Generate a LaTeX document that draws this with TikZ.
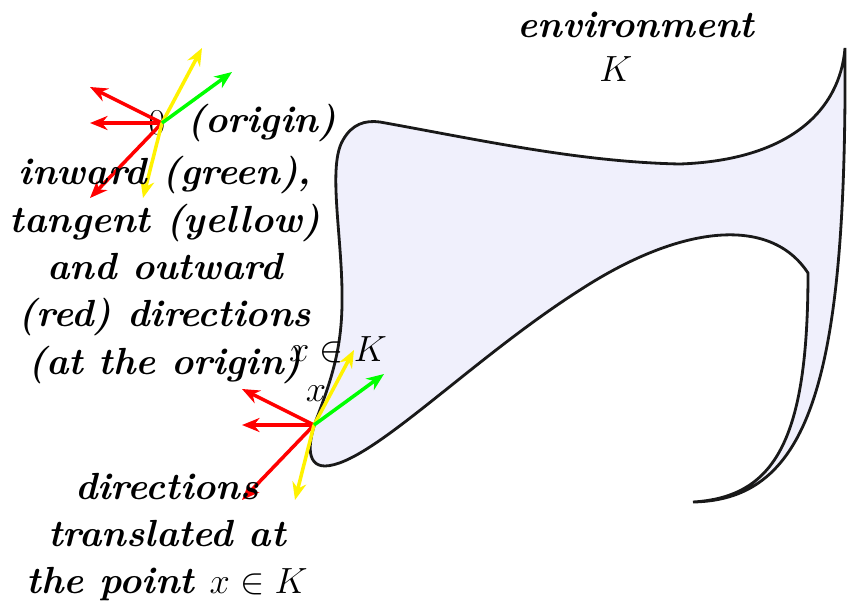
\documentclass[tikz,border=0pt]{standalone}
\usepackage{amsmath,amssymb}
\usepackage{xcolor}
\usetikzlibrary{arrows.meta, positioning}

\definecolor{envfill}{RGB}{240,240,252}

\begin{document}
\begin{tikzpicture}[
  x=0.02cm, y=-0.02cm,
  lbl/.style={font=\fontsize{21.5}{27}\selectfont\bfseries\itshape, align=center, inner sep=0pt},
  mathlbl/.style={font=\fontsize{21.5}{27}\selectfont, inner sep=0pt},
  vec/.style={line width=2pt, -{Stealth[length=10pt, width=8pt]}},
  invec/.style={vec, draw=green},
  tanvec/.style={vec, draw=yellow},
  outvec/.style={vec, draw=red}
]
\useasboundingbox (0,0) rectangle (849,613);

% the environment K
\draw[line width=1.6pt, draw=black!90, fill=envfill]
  (845,48) .. controls (847,380) and (810,500) .. (693,502)
  .. controls (775,497) and (808,440) .. (808,273)
  .. controls (770,215) and (680,225) .. (580,290)
  .. controls (470,360) and (370,465) .. (325,466)
  .. controls (305,466) and (308,440) .. (318,415)
  .. controls (335,370) and (343,340) .. (342,290)
  .. controls (341,230) and (328,165) .. (343,140)
  .. controls (352,124) and (365,120) .. (380,122)
  .. controls (480,140) and (580,162) .. (680,164)
  .. controls (790,160) and (840,110) .. (845,48) -- cycle;

\node[lbl] (envlbl) at (636,47) {environment\\[-2pt]\hspace*{-23pt}\mdseries\upshape$K$};

% directions at the origin
\coordinate (O) at (162,123);
\coordinate (Oin) at (232,72);
\coordinate (Otana) at (202,48);
\coordinate (Otanb) at (143,198);
\coordinate (Oouta) at (90,87);
\coordinate (Ooutb) at (90,123);
\coordinate (Ooutc) at (90,198);

% the same directions at x
\coordinate (X) at (314,425);
\coordinate (Xin) at (384,374);
\coordinate (Xtana) at (354,350);
\coordinate (Xtanb) at (295,500);
\coordinate (Xouta) at (242,389);
\coordinate (Xoutb) at (242,425);
\coordinate (Xoutc) at (242,500);

\node[mathlbl] (zero) at (157,123) {$0$};
\node[mathlbl] (xin) at (338,350) {$x\in K$};
\node[mathlbl] (xpt) at (316,394) {$x$};

\draw[outvec] (O) -- (Oouta);
\draw[outvec] (O) -- (Ooutb);
\draw[outvec] (O) -- (Ooutc);
\draw[tanvec] (O) -- (Otana);
\draw[tanvec] (O) -- (Otanb);
\draw[invec]  (O) -- (Oin);

\draw[outvec] (X) -- (Xouta);
\draw[outvec] (X) -- (Xoutb);
\draw[outvec] (X) -- (Xoutc);
\draw[tanvec] (X) -- (Xtana);
\draw[tanvec] (X) -- (Xtanb);
\draw[invec]  (X) -- (Xin);

\node[lbl, anchor=west] (origin) at (187,123) {(origin)};
\node[lbl] (dirs) at (165,270) {inward (green),\\tangent (yellow)\\and outward\\(red) directions\\(at the origin)};
\node[lbl] (moved) at (167,537) {directions\\translated at\\the point \mdseries\upshape$x\in K$};

\end{tikzpicture}
\end{document}
